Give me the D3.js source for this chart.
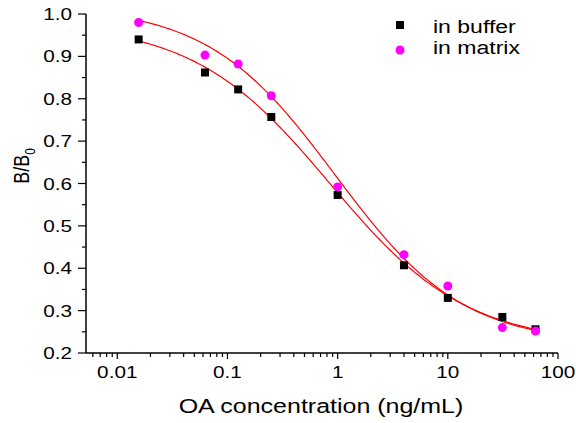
<!DOCTYPE html>
<html>
<head>
<meta charset="UTF-8">
<script src="https://d3js.org/d3.v7.min.js"></script>
<style>
  body { margin: 0; background: #fff; }
  svg { display: block; font-family: "Liberation Sans", Arial, sans-serif; }
</style>
</head>
<body>
<svg width="576" height="423"></svg>
<script>
// concentrations (ng/mL)
const conc = [0.015625, 0.0625, 0.125, 0.25, 1, 4, 10, 31.25, 62.5];
const buffer = [0.940, 0.862, 0.822, 0.757, 0.573, 0.407, 0.330, 0.285, 0.256];
const matrix = [0.980, 0.903, 0.882, 0.807, 0.592, 0.432, 0.358, 0.260, 0.252];
// logistic fit params [A, B, C, D]
const fitBuffer = [0.98, 0.70, 0.85, 0.22];
const fitMatrix = [1.02, 0.75, 0.95, 0.22];
const xTicks = [0.01, 0.1, 1, 10, 100];
const yTicks = [0.2, 0.3, 0.4, 0.5, 0.6, 0.7, 0.8, 0.9, 1.0];
const legendNames = ["in buffer", "in matrix"];

const svg = d3.select("svg");
const x = d3.scaleLog().domain([0.0052, 100]).range([86, 558]);
const y = d3.scaleLinear().domain([0.2, 1.0]).range([353, 14]);
const SX = 1.22; // text in the original looks stretched sideways

// text helper: stretched horizontally around its anchor
function label(g, px, py, str, size, anchor, sx) {
  return g.append("text")
    .attr("transform", `translate(${px},${py}) scale(${sx || SX},1)`)
    .attr("text-anchor", anchor || "start")
    .attr("font-size", size).text(str);
}

// x minor ticks
const xMinor = [];
for (let e = -3; e <= 1; e++) for (let k = 2; k <= 9; k++) {
  const v = k * Math.pow(10, e);
  if (v >= 0.0052 && v <= 100) xMinor.push(v);
}
const yMinor = d3.range(0.25, 1.0, 0.1);

// x axis
svg.append("line").attr("x1", 86).attr("x2", 558).attr("y1", 353).attr("y2", 353)
  .attr("stroke", "#000").attr("stroke-width", 1.5);
svg.append("g").selectAll("line").data(xMinor).join("line")
  .attr("x1", d => x(d)).attr("x2", d => x(d)).attr("y1", 353).attr("y2", 357)
  .attr("stroke", "#000").attr("stroke-width", 1.2);
svg.append("g").selectAll("line").data(xTicks).join("line")
  .attr("x1", d => x(d)).attr("x2", d => x(d)).attr("y1", 353).attr("y2", 359)
  .attr("stroke", "#000").attr("stroke-width", 1.2);
xTicks.forEach(d => label(svg, x(d), 378, String(d), 17, "middle"));

// y axis
svg.append("line").attr("x1", 86).attr("x2", 86).attr("y1", 14).attr("y2", 353)
  .attr("stroke", "#000").attr("stroke-width", 1.5);
svg.append("g").selectAll("line").data(yMinor).join("line")
  .attr("x1", 82).attr("x2", 86).attr("y1", d => y(d)).attr("y2", d => y(d))
  .attr("stroke", "#000").attr("stroke-width", 1.2);
svg.append("g").selectAll("line").data(yTicks).join("line")
  .attr("x1", 78).attr("x2", 86).attr("y1", d => y(d)).attr("y2", d => y(d))
  .attr("stroke", "#000").attr("stroke-width", 1.2);
yTicks.forEach(d => label(svg, 72, y(d) + 6, d.toFixed(1), 17, "end"));

// axis titles
label(svg, 321, 413, "OA concentration (ng/mL)", 20, "middle", 1.25);
const yl = svg.append("text")
  .attr("transform", `translate(29,166) scale(${SX},1) rotate(-90)`)
  .attr("text-anchor", "middle").attr("font-size", 18);
yl.append("tspan").text("B/B");
yl.append("tspan").attr("font-size", 12).attr("dy", 5).text("0");

// fitted curves
const logistic = (p, c) => p[3] + (p[0] - p[3]) / (1 + Math.pow(c / p[2], p[1]));
const lo = Math.log10(conc[0]), hi = Math.log10(conc[conc.length - 1]);
const xs = d3.range(0, 201).map(i => Math.pow(10, lo + i / 200 * (hi - lo)));
const line = d3.line().x(d => x(d[0])).y(d => y(d[1]));
[fitBuffer, fitMatrix].forEach(p => {
  svg.append("path").attr("d", line(xs.map(c => [c, logistic(p, c)])))
    .attr("fill", "none").attr("stroke", "#ff0000").attr("stroke-width", 1.2);
});

// points
svg.append("g").selectAll("rect").data(conc).join("rect")
  .attr("x", d => x(d) - 4).attr("y", (d, i) => y(buffer[i]) - 4)
  .attr("width", 8).attr("height", 8).attr("fill", "#000");
svg.append("g").selectAll("circle").data(conc).join("circle")
  .attr("cx", d => x(d)).attr("cy", (d, i) => y(matrix[i])).attr("r", 4.5)
  .attr("fill", "#ff00ff");

// legend
svg.append("rect").attr("x", 396).attr("y", 21).attr("width", 8).attr("height", 8).attr("fill", "#000");
svg.append("circle").attr("cx", 400).attr("cy", 50).attr("r", 4.5).attr("fill", "#ff00ff");
label(svg, 433, 33, legendNames[0], 18, "start", 1.28);
label(svg, 433, 54, legendNames[1], 18, "start", 1.28);
</script>
</body>
</html>
